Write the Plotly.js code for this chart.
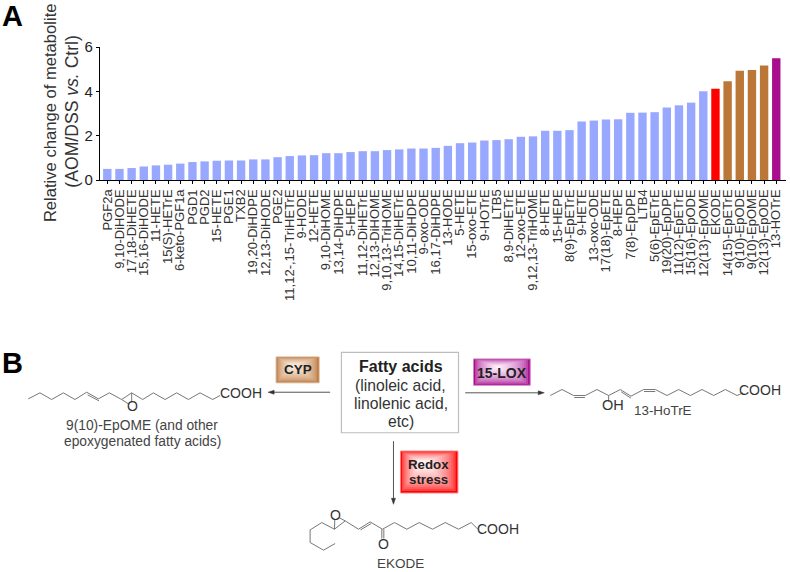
<!DOCTYPE html>
<html>
<head>
<meta charset="utf-8">
<script src="https://cdn.plot.ly/plotly-3.0.1.min.js"></script>
<style>html,body{margin:0;padding:0;background:#fff}#c{width:790px;height:572px}</style>
</head>
<body>
<div id="c"></div>
<script>
const categories = ["PGF2a","9,10-DiHODE","17,18-DiHETE","15,16-DiHODE","11-HETE","15(S)-HETrE","6-keto-PGF1a","PGD1","PGD2","15-HETE","PGE1","TXB2","19,20-DiHDPE","12,13-DiHODE","PGE2","11,12-,15-TriHETrE","9-HODE","12-HETE","9,10-DiHOME","13,14-DiHDPE","5-HEPE","11,12-DiHETrE","12,13-DiHOME","9,10,13-TriHOME","14,15-DiHETrE","10,11-DiHDPE","9-oxo-ODE","16,17-DiHDPE","13-HODE","5-HETE","15-oxo-ETE","9-HOTrE","LTB5","8,9-DiHETrE","12-oxo-ETE","9,12,13-TriHOME","8-HETE","15-HEPE","8(9)-EpETrE","9-HETE","13-oxo-ODE","17(18)-EpETE","8-HEPE","7(8)-EpDPE","LTB4","5(6)-EpETrE","19(20)-EpDPE","11(12)-EpETrE","15(16)-EpODE","12(13)-EpOME","EKODE","14(15)-EpETrE","9(10)-EpODE","9(10)-EpOME","12(13)-EpODE","13-HOTrE"];
const values = [0.5,0.5,0.54,0.61,0.66,0.69,0.74,0.81,0.84,0.87,0.88,0.88,0.93,0.93,1.03,1.08,1.11,1.12,1.21,1.21,1.26,1.3,1.3,1.35,1.38,1.42,1.42,1.45,1.54,1.66,1.69,1.78,1.8,1.84,1.95,1.97,2.22,2.22,2.25,2.64,2.68,2.73,2.74,3.03,3.04,3.06,3.27,3.37,3.49,4.0,4.12,4.45,4.93,4.96,5.16,5.49];
const BLUE="#99a8ff", RED="#ff0000", BROWN="#bb7738", PURPLE="#a80d8d";
const barColors = categories.map((c,i)=> c==="EKODE"?RED : c==="13-HOTrE"?PURPLE : i>50?BROWN : BLUE);

// page-pixel to paper conversion for panel B drawing
const L=100,R=785.6,T=46.7,B=180;
const px=x=>(x-L)/(R-L), py=y=>1-(y-T)/(B-T);
const FONT='"Liberation Sans", Arial, sans-serif';
const shapes=[], ann=[];
const rect=(x0,y0,x1,y1,fill,line,lw)=>shapes.push({type:'rect',xref:'paper',yref:'paper',x0:px(x0),y0:py(y0),x1:px(x1),y1:py(y1),fillcolor:fill||'rgba(0,0,0,0)',line:{color:line||'rgba(0,0,0,0)',width:lw||0},layer:'above'});
const poly=(pts,color,w,fill)=>{
  const d=pts.map((p,i)=>(i?'L':'M')+px(p[0]).toFixed(5)+' '+py(p[1]).toFixed(5)).join(' ')+(fill?' Z':'');
  shapes.push({type:'path',xref:'paper',yref:'paper',path:d,line:{color:color,width:w},fillcolor:fill||'rgba(0,0,0,0)',layer:'above'});
};
const txt=(x,y,text,size,color,extra)=>ann.push(Object.assign({xref:'paper',yref:'paper',x:px(x),y:py(y),text:text,showarrow:false,xanchor:'center',yanchor:'middle',font:{family:FONT,size:size,color:color},borderpad:0,borderwidth:0},extra||{}));
const zoomPts=(ox,oy,a)=>a.map(p=>[ox+p[0]/3,oy+p[1]/3]);
const mol='#777';
const mix=(a,b,t)=>'rgb('+a.map((v,i)=>Math.round(v+(b[i]-v)*t)).join(',')+')';
function glow(x0,y0,x1,y1,edge,center,cx,cy){
  const n=16;
  for(let i=0;i<n;i++){
    const t=i/(n-1), k=Math.pow(t,0.5);
    rect(x0+(cx-x0)*t*0.95,y0+(cy-y0)*t*0.95,x1-(x1-cx)*t*0.95,y1-(y1-cy)*t*0.95,mix(edge,center,k));
  }
  rect(x0,y0,x1,y1,null,mix(edge,[255,255,255],0.5),1);
}

// central box and arrows
rect(341.3,352.7,458.3,433.3,'#fff','#bdbdbd',1.2);
poly([[330,392.7],[271,392.7]],'#555',1);
poly([[268,392.7],[274,390.7],[274,394.7]],'#333',0.5,'#333');
poly([[465,393.3],[538,393.3]],'#555',1);
poly([[544,393.3],[538,391.3],[538,395.3]],'#333',0.5,'#333');
poly([[393.3,441.7],[393.3,499]],'#555',1);
poly([[393.3,505],[391.3,499],[395.3,499]],'#333',0.5,'#333');

// enzyme labels
glow(276,357.3,319,383.3,[184,112,52],[250,238,226],293,366);
glow(473.3,359.3,530,385.7,[165,10,140],[255,240,252],497,367);
glow(400.3,451.7,457.7,493.7,[255,0,0],[255,255,255],422,463);
txt(297.5,370.3,'<b>CYP</b>',13.5,'#222');
txt(501.5,373.5,'<b>15-LOX</b>',14,'#222');
txt(428.5,464.8,'<b>Redox</b>',13.3,'#222');
txt(428.5,480.4,'<b>stress</b>',13.3,'#222');

txt(400.7,367,'<b>Fatty acids</b>',16,'#222');
txt(400.7,385.7,'(linoleic acid,',15.7,'#333');
txt(400.7,404,'linolenic acid,',15.7,'#333');
txt(400.7,422.5,'etc)',15.7,'#333');

// 9(10)-EpOME structure
poly(zoomPts(20,370,[[25,88],[60,70],[95,90],[130,70],[165,90],[200,68],[235,88],[268,70],[305,90],[335,70],[368,90],[400,70],[435,90],[470,70],[505,90],[540,70],[578,90],[600,78]]),mol,1);
poly(zoomPts(20,370,[[203,76],[237,94]]),mol,1);
poly(zoomPts(20,370,[[305,90],[325,103]]),mol,1);
poly(zoomPts(20,370,[[335,70],[335,98]]),mol,1);
txt(132,407,'O',14,'#333');
txt(241,393,'COOH',14,'#333');
txt(142,426,'9(10)-EpOME (and other',13.8,'#444');
txt(142,442,'epoxygenated fatty acids)',13.8,'#444');

// 13-HoTrE structure
poly(zoomPts(540,370,[[30,78],[65,60],[100,78],[135,78],[170,60],[205,78],[240,60],[272,80],[310,60],[345,60],[380,78],[415,60],[450,78],[485,60],[520,78],[555,60],[590,78],[608,70]]),mol,1);
poly(zoomPts(540,370,[[102,84],[134,84]]),mol,1);
poly(zoomPts(540,370,[[243,67],[272,86]]),mol,1);
poly(zoomPts(540,370,[[311,66],[345,66]]),mol,1);
poly(zoomPts(540,370,[[205,78],[205,96]]),mol,1);
txt(613,406,'OH',14.5,'#333');
txt(663,411.5,'13-HoTrE',13.4,'#444');
txt(760,390,'COOH',14,'#333');

// EKODE structure
poly(zoomPts(295,490,[[120,163],[85,183],[45,160],[45,122],[80,100],[118,120],[150,95],[190,120],[225,98],[262,120],[298,100],[335,120],[372,100],[412,120],[450,100],[490,120],[528,100],[548,120]]),mol,1);
poly(zoomPts(295,490,[[196,122],[228,103]]),mol,1);
poly(zoomPts(295,490,[[118,120],[119,92]]),mol,1);
poly(zoomPts(295,490,[[150,95],[132,85]]),mol,1);
poly(zoomPts(295,490,[[260,120],[260,148]]),mol,1);
poly(zoomPts(295,490,[[266,120],[266,148]]),mol,1);
txt(335,516,'O',14,'#333');
txt(383,544.5,'O',14,'#333');
txt(498,530,'COOH',14,'#333');
txt(400,564,'EKODE',13.5,'#444');

// panel letters and y title
txt(13,16,'<b>A</b>',29,'#000');
txt(13,363,'<b>B</b>',29,'#000');
txt(50,112,'Relative change of metabolite',16.6,'#333',{textangle:-90});
txt(72,111.5,'(AOM/DSS <i>vs.</i> Ctrl)',17.6,'#333',{textangle:-90});

Plotly.newPlot('c',[{
  type:'bar',x:categories,y:values,width:0.69,
  marker:{color:barColors,line:{width:0}},hoverinfo:'x+y'
}],{
  width:790,height:572,showlegend:false,
  paper_bgcolor:'#fff',plot_bgcolor:'#fff',
  margin:{l:L,r:790-R,t:T,b:572-B,pad:0},
  font:{family:FONT,color:'#333'},
  xaxis:{type:'category',range:[-0.6,55.8],tickmode:'array',tickvals:categories,ticktext:categories,tickangle:-90,
    tickfont:{size:13,color:'#333',family:FONT},ticks:'outside',ticklen:3,tickwidth:1,tickcolor:'#000',
    showline:true,linecolor:'#000',linewidth:1.2,showgrid:false,zeroline:false,automargin:false},
  yaxis:{range:[0,6],tickmode:'array',tickvals:[0,2,4,6],ticktext:['0','2','4','6'],
    tickfont:{size:15,color:'#222',family:FONT},ticks:'outside',ticklen:3,tickwidth:1,tickcolor:'#000',
    showline:true,linecolor:'#000',linewidth:1.2,showgrid:false,zeroline:false,automargin:false},
  shapes:shapes,annotations:ann
},{displayModeBar:false,staticPlot:true});
</script>
</body>
</html>
